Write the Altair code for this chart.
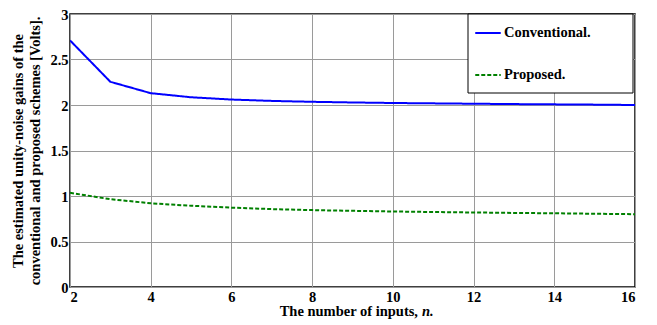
import altair as alt
import pandas as pd

n_values = list(range(2, 17))
conventional = [2.71, 2.255, 2.13, 2.085, 2.06, 2.045, 2.035, 2.028, 2.022, 2.018, 2.014, 2.01, 2.007, 2.004, 2.0]
proposed = [1.035, 0.965, 0.92, 0.893, 0.872, 0.856, 0.845, 0.837, 0.83, 0.824, 0.819, 0.814, 0.81, 0.805, 0.80]
series_names = ["Conventional.", "Proposed."]
series_colors = ["#0000ff", "#008000"]
series_dash = [[1, 0], [4, 2]]
x_ticks = [2, 4, 6, 8, 10, 12, 14, 16]
y_ticks = [0, 0.5, 1, 1.5, 2, 2.5, 3]
x_title_main = "The number of inputs,"
x_title_var = "n."

df = pd.DataFrame({
    "n": n_values * 2,
    "gain": conventional + proposed,
    "series": [series_names[0]] * len(n_values) + [series_names[1]] * len(n_values),
})

FONT = "Liberation Serif"
FS = 14.5
W, H = 565, 273

lines = alt.Chart(df).mark_line(strokeWidth=2, clip=True).encode(
    x=alt.X("n:Q", scale=alt.Scale(domain=[2, 16], nice=False),
            axis=alt.Axis(values=x_ticks, title=None, format="d")),
    y=alt.Y("gain:Q", scale=alt.Scale(domain=[0, 3], nice=False),
            axis=alt.Axis(values=y_ticks, format="~g", labelOffset=1,
                          title=["The estimated unity-noise gains of the",
                                 "conventional and proposed schemes [Volts]."])),
    color=alt.Color("series:N", scale=alt.Scale(domain=series_names, range=series_colors),
                    legend=alt.Legend(title=None, orient="none", legendX=404, legendY=5,
                                      symbolType="stroke", symbolSize=650, symbolStrokeWidth=2,
                                      labelFont=FONT, labelFontSize=FS, labelFontWeight="bold",
                                      labelColor="black", rowPadding=21, labelOffset=2,
                                      padding=0)),
    strokeDash=alt.StrokeDash("series:N", scale=alt.Scale(domain=series_names, range=series_dash),
                              legend=None),
)

box = alt.Chart(pd.DataFrame({"k": [0]})).mark_rect(fill="white", stroke="black", strokeWidth=1).encode(
    x=alt.value(398), x2=alt.value(563), y=alt.value(0), y2=alt.value(79)
)

title_df = pd.DataFrame({"t1": [x_title_main], "t2": [x_title_var]})
xt1 = alt.Chart(title_df).mark_text(font=FONT, fontSize=FS, fontWeight="bold", align="right",
                                    baseline="middle", color="black").encode(
    text="t1:N", x=alt.value(348), y=alt.value(298))
xt2 = alt.Chart(title_df).mark_text(font=FONT, fontSize=FS, fontWeight="bold", fontStyle="italic",
                                    align="left", baseline="middle", color="black").encode(
    text="t2:N", x=alt.value(352), y=alt.value(298))

chart = alt.layer(lines, box, xt1, xt2).properties(
    width=W, height=H,
    autosize=alt.AutoSizeParams(type="none"),
    padding={"left": 62, "top": 6, "right": 6, "bottom": 40},
).configure(font=FONT).configure_view(stroke="black", strokeWidth=1.5).configure_axis(
    labelFont=FONT, labelFontSize=FS, labelFontWeight="bold", labelColor="black",
    titleFont=FONT, titleFontSize=FS, titleFontWeight="bold", titleColor="black",
    gridColor="#9a9a9a", gridWidth=1, gridOpacity=1,
    domain=False, ticks=False, labelPadding=2,
).configure_axisY(titlePadding=7, titleLineHeight=17).configure_axisX(labelPadding=3)

chart.save("out.html", embed_options={"renderer": "svg", "actions": False})
